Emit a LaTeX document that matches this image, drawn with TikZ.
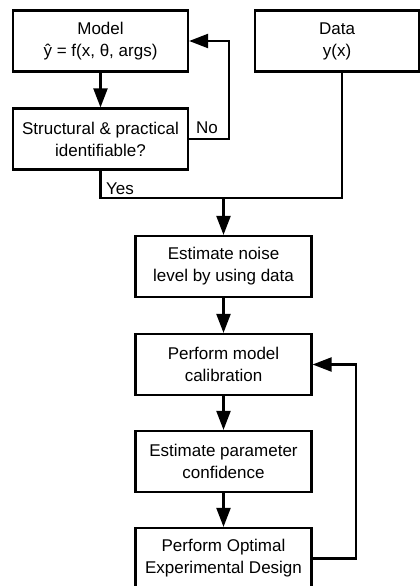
\documentclass[tikz,border=0pt]{standalone}
\usepackage{fontspec}
\setmainfont{Liberation Sans}
\usetikzlibrary{arrows.meta}
\begin{document}
\begin{tikzpicture}[x=1pt,y=-1pt,
  txt/.style={font=\fontsize{17}{22}\selectfont},
  box/.style={txt, draw, line width=2.2pt, minimum width=#1, minimum height=61pt,
    align=center, inner sep=0pt},
  box/.default=176pt,
  lbl/.style={txt, inner sep=0pt},
  arr/.style={line width=2.2pt, -{Triangle[length=19pt,width=14pt]}},
  link/.style={line width=2.2pt}]
  % canvas
  \fill[white] (0,0) rectangle (420,586);
  \useasboundingbox (0,0) rectangle (420,586);
  \clip (0,0) rectangle (420,586);

  % upper row
  \node[box=175pt] (model)  at (100.5,41)  {Model\\ŷ = f(x, θ, args)};
  \node[box=164pt] (data)   at (337,41)    {Data\\y(x)};
  \node[box=175pt] (struct) at (100.5,139) {Structural \& practical\\identifiable?};

  % main chain
  \node[box] (noise) at (223.5,266.5) {Estimate noise\\level by using data};
  \node[box] (calib) at (223.5,364.5) {Perform model\\calibration};
  \node[box] (conf)  at (223.5,461.5) {Estimate parameter\\confidence};
  \node[box] (oed)   at (223.5,558.5) {Perform Optimal\\Experimental Design};

  \coordinate (join) at (223.5,198);

  % identifiability check
  \draw[arr] (model) -- (struct);
  \draw[arr] (struct.east) -- ++(40,0) |- (model.east);
  \node[lbl, anchor=base west] (nolbl) at (196,133) {No};

  % merge of model and data branches
  \draw[link] (struct.south) |- ([xshift=5pt]data.south |- join) -- ([xshift=5pt]data.south);
  \node[lbl, anchor=base west] (yeslbl) at (106,194) {Yes};
  \draw[arr] (join) -- (noise);

  % calibration loop
  \draw[arr] (noise) -- (calib);
  \draw[arr] (calib) -- (conf);
  \draw[arr] (conf) -- (oed);
  \draw[arr] (oed.east) -- ++(43,0) |- (calib.east);
\end{tikzpicture}
\end{document}
